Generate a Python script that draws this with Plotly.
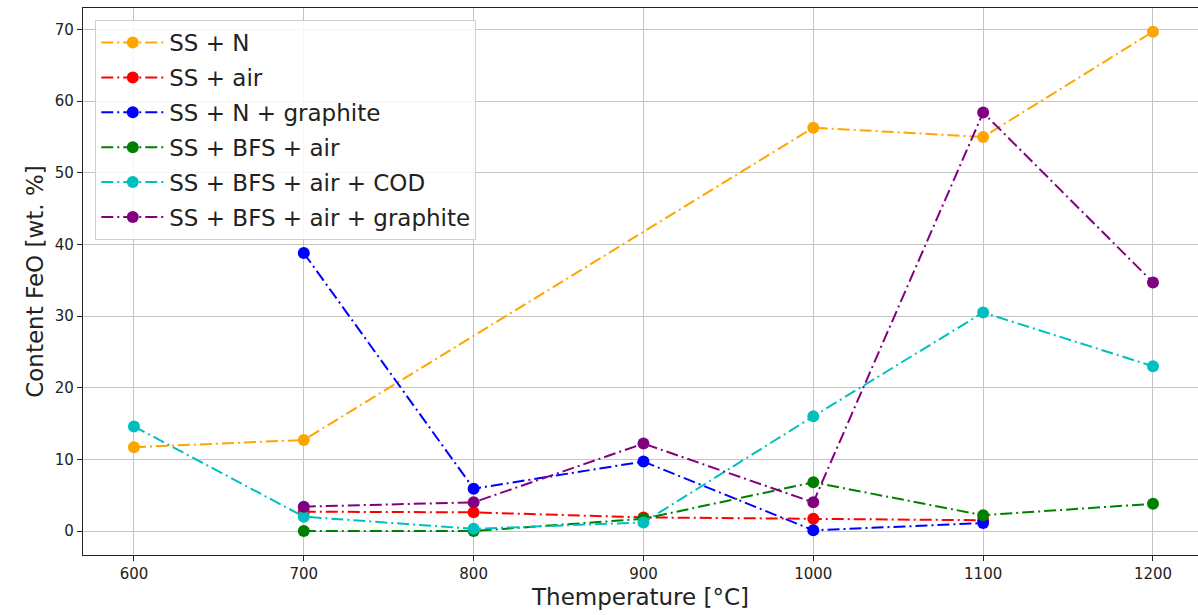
import plotly.graph_objects as go

x_ss_n = [600, 700, 1000, 1100, 1200]
y_ss_n = [11.7, 12.7, 56.3, 55.0, 69.7]

x_ss_air = [700, 800, 900, 1000, 1100]
y_ss_air = [2.7, 2.6, 1.9, 1.7, 1.5]

x_ss_n_gr = [700, 800, 900, 1000, 1100]
y_ss_n_gr = [38.8, 5.9, 9.7, 0.1, 1.1]

x_bfs_air = [700, 800, 900, 1000, 1100, 1200]
y_bfs_air = [0.0, 0.0, 1.7, 6.8, 2.2, 3.8]

x_bfs_cod = [600, 700, 800, 900, 1000, 1100, 1200]
y_bfs_cod = [14.6, 2.0, 0.3, 1.2, 16.0, 30.5, 23.0]

x_bfs_gr = [700, 800, 900, 1000, 1100, 1200]
y_bfs_gr = [3.4, 4.0, 12.2, 4.0, 58.4, 34.7]

series = [
    ("SS + N", x_ss_n, y_ss_n, "orange"),
    ("SS + air", x_ss_air, y_ss_air, "red"),
    ("SS + N + graphite", x_ss_n_gr, y_ss_n_gr, "blue"),
    ("SS + BFS + air", x_bfs_air, y_bfs_air, "green"),
    ("SS + BFS + air + COD", x_bfs_cod, y_bfs_cod, "#00BFBF"),
    ("SS + BFS + air + graphite", x_bfs_gr, y_bfs_gr, "purple"),
]

x_ticks = [600, 700, 800, 900, 1000, 1100, 1200]
y_ticks = [0, 10, 20, 30, 40, 50, 60, 70]

fig = go.Figure()
for i, (name, xs, ys, col) in enumerate(series):
    fig.add_trace(go.Scatter(
        x=xs, y=ys, name=name, mode="lines+markers", legendgroup=f"g{i}",
        line=dict(color=col, width=2, dash="12px,4px,2px,4px"),
        marker=dict(color=col, size=12),
    ))

font = "DejaVu Sans, sans-serif"
fig.update_layout(
    width=1198, height=615,
    margin=dict(l=83, r=0, t=8, b=60),
    paper_bgcolor="white", plot_bgcolor="white",
    font=dict(family=font, size=15, color="#222"),
    showlegend=True,
    legend=dict(
        x=0.011, y=0.978, xanchor="left", yanchor="top",
        bgcolor="rgba(255,255,255,0.85)", bordercolor="#d0d0d0", borderwidth=1,
        font=dict(family=font, size=23, color="#222"),
        tracegroupgap=2, itemwidth=63,
    ),
    xaxis=dict(
        range=[570, 1226.5], tickvals=x_ticks, ticktext=[str(v) for v in x_ticks],
        showgrid=True, gridcolor="#c4c4c4", gridwidth=1,
        showline=True, linecolor="#222", linewidth=1.2, mirror=True,
        ticks="outside", ticklen=5, tickcolor="#222",
        tickfont=dict(size=15, color="#222"),
        zeroline=False,
        title=dict(text="Themperature [°C]", font=dict(size=23, color="#222"), standoff=6),
    ),
    yaxis=dict(
        range=[-3.35, 73.0], tickvals=y_ticks, ticktext=[str(v) for v in y_ticks],
        showgrid=True, gridcolor="#c4c4c4", gridwidth=1,
        showline=True, linecolor="#222", linewidth=1.2, mirror=True,
        ticks="outside", ticklen=5, tickcolor="#222",
        tickfont=dict(size=15, color="#222"),
        zeroline=False,
        title=dict(text="Content FeO [wt. %]", font=dict(size=23, color="#222"), standoff=4),
    ),
)

fig.write_html("out.html")
